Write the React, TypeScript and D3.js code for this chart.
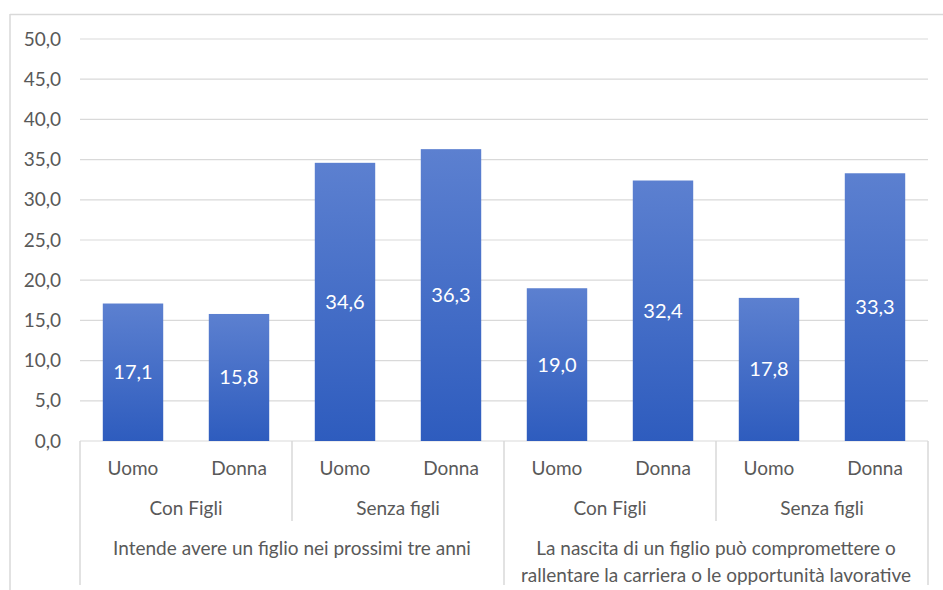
import React from "react";
import * as d3 from "d3";

const categories = ["Uomo", "Donna", "Uomo", "Donna", "Uomo", "Donna", "Uomo", "Donna"];
const subGroups = ["Con Figli", "Senza figli", "Con Figli", "Senza figli"];
const mainGroups = [
  ["Intende avere un figlio nei prossimi tre anni"],
  ["La nascita di un figlio può compromettere o", "rallentare la carriera o le opportunità lavorative"],
];
const values = [17.1, 15.8, 34.6, 36.3, 19.0, 32.4, 17.8, 33.3];
const yTicks = [0, 5, 10, 15, 20, 25, 30, 35, 40, 45, 50];

const W = 943;
const H = 590;
const left = 80;
const right = 928;
const top = 39;
const bottom = 441;
const font = "Lato, 'Noto Sans', sans-serif";
const textColor = "#595959";
const gridColor = "#d9d9d9";
const fs = 19;

export default function App() {
  const idx = categories.map((_, i) => i);
  const x = d3.scaleBand<number>().domain(idx).range([left, right]).paddingInner(0.43).paddingOuter(0.215);
  const y = d3.scaleLinear().domain([0, 50]).range([bottom, top]);
  const step = (right - left) / categories.length;
  const fmt = (v: number) => v.toFixed(1).replace(".", ",");

  return (
    <svg width={W} height={H} style={{ position: "absolute", left: 0, top: 0, display: "block", background: "#fff" }}>
      <defs>
        <linearGradient id="barGrad" x1="0" y1="0" x2="0" y2="1">
          <stop offset="0%" stopColor="#5c80d0" />
          <stop offset="100%" stopColor="#2e5cbe" />
        </linearGradient>
      </defs>
      {/* outer border */}
      <line x1={10} y1={14.5} x2={W} y2={14.5} stroke={gridColor} strokeWidth={1.5} />
      <line x1={10} y1={14} x2={10} y2={H} stroke={gridColor} strokeWidth={1.5} />
      {/* gridlines & ticks */}
      {yTicks.map((t) => (
        <g key={t}>
          <line x1={left} x2={right} y1={y(t)} y2={y(t)} stroke={gridColor} strokeWidth={1.2} />
          <text x={61} y={y(t)} dy="0.35em" textAnchor="end" fontFamily={font} fontSize={fs} fill={textColor}>
            {fmt(t)}
          </text>
        </g>
      ))}
      {/* bars */}
      {values.map((v, i) => (
        <g key={i}>
          <rect x={x(i)} y={y(v)} width={x.bandwidth()} height={y(0) - y(v)} fill="url(#barGrad)" />
          <text
            x={(x(i) as number) + x.bandwidth() / 2}
            y={(y(v) + y(0)) / 2}
            dy="0.35em"
            textAnchor="middle"
            fontFamily={font}
            fontSize={20}
            fill="#ffffff"
          >
            {fmt(v)}
          </text>
        </g>
      ))}
      {/* category axis lines */}
      {[0, 1, 2, 3, 4].map((k) => {
        const xx = left + k * 2 * step;
        const long = k % 2 === 0;
        return <line key={k} x1={xx} x2={xx} y1={bottom} y2={long ? 585 : 521} stroke={gridColor} strokeWidth={1.5} />;
      })}
      {categories.map((c, i) => (
        <text key={i} x={left + (i + 0.5) * step} y={468} dy="0.35em" textAnchor="middle" fontFamily={font} fontSize={fs} fill={textColor}>
          {c}
        </text>
      ))}
      {subGroups.map((g, i) => (
        <text key={i} x={left + (i + 0.5) * 2 * step} y={508} dy="0.35em" textAnchor="middle" fontFamily={font} fontSize={fs} fill={textColor}>
          {g}
        </text>
      ))}
      {mainGroups.map((lines, i) =>
        lines.map((l, j) => (
          <text
            key={`${i}-${j}`}
            x={left + (i + 0.5) * 4 * step}
            y={548 + j * 27}
            dy="0.35em"
            textAnchor="middle"
            fontFamily={font}
            fontSize={fs}
            fill={textColor}
          >
            {l}
          </text>
        ))
      )}
    </svg>
  );
}
